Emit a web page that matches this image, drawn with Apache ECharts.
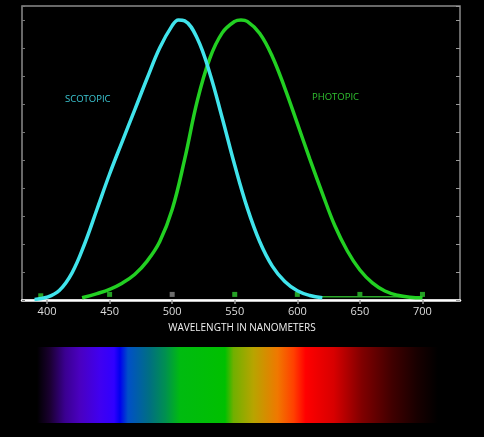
<!DOCTYPE html>
<html><head><meta charset="utf-8">
<style>html,body{margin:0;padding:0;background:#000;}#c{width:484px;height:437px;}</style>
<script src="https://cdn.jsdelivr.net/npm/echarts@6/dist/echarts.min.js"></script>
</head><body><div id="c"></div>
<script>
// wavelengths (nm) and relative sensitivity
const scotopicWl  = [390,400,410,420,430,440,450,460,470,480,490,500,505,510,520,530,540,550,560,570,580,590,600,610,620];
const scotopicVal = [0.002,0.010,0.035,0.097,0.200,0.325,0.450,0.565,0.678,0.792,0.900,0.980,1.000,0.997,0.935,0.811,0.650,0.481,0.329,0.208,0.121,0.066,0.033,0.016,0.008];
const photopicWl  = [428,440,450,460,470,480,490,500,510,520,530,540,550,555,560,570,580,590,600,610,620,630,640,650,660,670,680,690,700];
const photopicVal = [0.008,0.023,0.038,0.060,0.091,0.139,0.208,0.323,0.503,0.710,0.862,0.954,0.995,1.000,0.995,0.952,0.870,0.757,0.631,0.503,0.381,0.265,0.175,0.107,0.061,0.032,0.017,0.010,0.008];
const baselineWl  = [612,640,670,700];
const baselineVal = [0.012,0.012,0.012,0.012];
const markerWl    = [395,450,500,550,600,650,700];
const markerVal   = [0.015,0.02,0.02,0.02,0.02,0.02,0.02];
const tickLabels  = [400,450,500,550,600,650,700];
const spectrumStops = [
  [0,'#000000'],[0.032,'#1a0030'],[0.07,'#3a0090'],[0.107,'#4a00c0'],[0.157,'#4000f0'],
  [0.192,'#3000ff'],[0.207,'#0000ee'],[0.227,'#0050c8'],[0.282,'#007080'],[0.32,'#009050'],
  [0.357,'#00bb10'],[0.469,'#00c000'],[0.49,'#70b000'],[0.54,'#b8a400'],[0.6,'#f07800'],
  [0.64,'#ff4000'],[0.67,'#ff0000'],[0.74,'#d80000'],[0.81,'#800000'],[0.885,'#400000'],
  [0.948,'#180000'],[1,'#000000']
];

const zip = (a,b)=>a.map((v,i)=>[v,b[i]]);
const chart = echarts.init(document.getElementById('c'));
const font = "'Open Sans', 'Noto Sans', sans-serif";
chart.setOption({
  backgroundColor:'#000',
  animation:false,
  grid:{left:22,right:24,top:6,bottom:137,show:true,borderColor:'#8a8a8a',borderWidth:1.5,backgroundColor:'transparent'},
  xAxis:[{
    type:'value',min:380,max:730,position:'bottom',
    axisLine:{show:true,onZero:false,lineStyle:{color:'#ffffff',width:2.5}},
    axisTick:{show:false},
    splitLine:{show:false},
    axisLabel:{customValues:tickLabels,color:'#dddddd',fontSize:11,fontFamily:font,margin:6}
  },{
    type:'value',min:380,max:730,position:'top',
    axisLine:{show:false},
    axisTick:{show:true,inside:true,length:4,customValues:tickLabels,lineStyle:{color:'#9a9a9a',width:1.5}},
    axisLabel:{show:false},splitLine:{show:false}
  }],
  yAxis:[{
    type:'value',min:0,max:1.05,position:'left',interval:0.1,
    axisLine:{show:false},axisLabel:{show:false},splitLine:{show:false},
    axisTick:{show:true,inside:true,length:3,lineStyle:{color:'#777',width:1}}
  },{
    type:'value',min:0,max:1.05,position:'right',interval:0.1,
    axisLine:{show:false},axisLabel:{show:false},splitLine:{show:false},
    axisTick:{show:true,inside:true,length:4,lineStyle:{color:'#999',width:1}}
  }],
  series:[
    {name:'baseline',type:'line',data:zip(baselineWl,baselineVal),symbol:'none',
     lineStyle:{color:'#2aa82a',width:1.5}},
    {name:'photopic',type:'line',smooth:0.4,data:zip(photopicWl,photopicVal),symbol:'none',
     lineStyle:{color:'#22d022',width:3.5}},
    {name:'scotopic',type:'line',smooth:0.4,data:zip(scotopicWl,scotopicVal),symbol:'none',
     lineStyle:{color:'#40e4ec',width:3.5}},
    {name:'markers',type:'scatter',data:zip(markerWl,markerVal),symbol:'rect',symbolSize:5,
     itemStyle:{color:function(p){return p.value[0]===500?'#888888':'#2ec82e';}}}
  ],
  graphic:[
    {type:'text',left:65,top:94,style:{text:'SCOTOPIC',fill:'#3cc8d4',font:"9.5px "+font}},
    {type:'text',left:312,top:92,style:{text:'PHOTOPIC',fill:'#30c030',font:"9.5px "+font}},
    {type:'text',left:'center',top:323,style:{text:'WAVELENGTH IN NANOMETERS',fill:'#f0f0f0',font:"10px "+font}},
    {type:'rect',shape:{x:37,y:347,width:401,height:76},
     style:{fill:new echarts.graphic.LinearGradient(0,0,1,0,spectrumStops.map(s=>({offset:s[0],color:s[1]})))}}
  ]
});
</script></body></html>
